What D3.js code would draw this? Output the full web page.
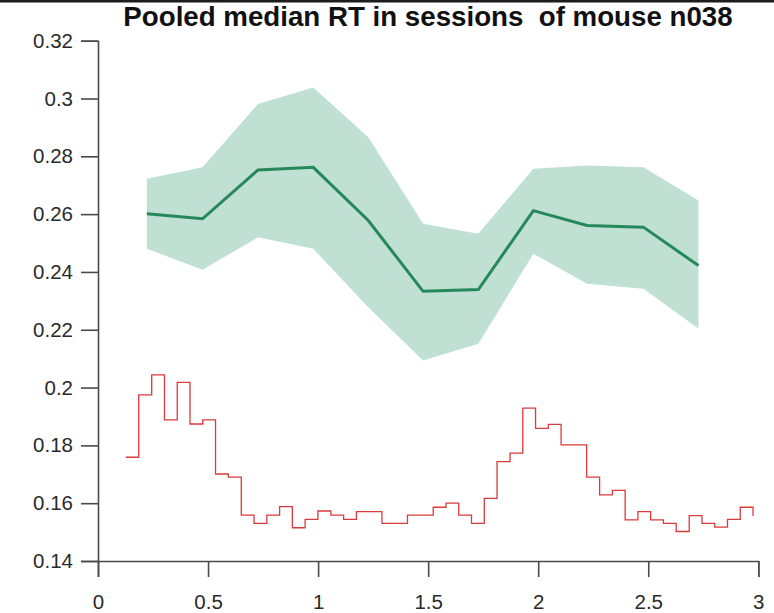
<!DOCTYPE html>
<html lang="en">
<head>
<title>Pooled median RT</title>
<script src="https://d3js.org/d3.v7.min.js" charset="utf-8"></script>
<style>
body { margin: 0; background: #fff; }
</style>
</head>
<body>

<script>
var titleText = "Pooled median RT in sessions\u00a0 of mouse n038";

var xTicks = [0, 0.5, 1, 1.5, 2, 2.5, 3];
var yTicks = [0.14, 0.16, 0.18, 0.2, 0.22, 0.24, 0.26, 0.28, 0.3, 0.32];

// green series: median with band
var sessX = [0.222, 0.475, 0.727, 0.978, 1.228, 1.477, 1.728, 1.978, 2.222, 2.478, 2.728];
var sessMed = [0.2601, 0.2584, 0.2753, 0.2762, 0.2578, 0.2333, 0.2339, 0.2612, 0.2561, 0.2555, 0.2422];
var sessHi = [0.2722, 0.2762, 0.2981, 0.3038, 0.2866, 0.2567, 0.2532, 0.2757, 0.2768, 0.2762, 0.2647];
var sessLo = [0.2480, 0.2408, 0.2520, 0.2480, 0.2278, 0.2094, 0.2152, 0.2463, 0.2359, 0.2342, 0.2204];

// red stairs
var stairX = [0.127, 0.185, 0.244, 0.302, 0.360, 0.418, 0.476, 0.534, 0.592, 0.651,
              0.709, 0.767, 0.825, 0.883, 0.941, 0.999, 1.058, 1.116, 1.174, 1.232,
              1.290, 1.348, 1.406, 1.465, 1.523, 1.581, 1.639, 1.697, 1.755, 1.813,
              1.872, 1.930, 1.988, 2.046, 2.104, 2.162, 2.220, 2.279, 2.337, 2.395,
              2.453, 2.511, 2.569, 2.627, 2.686, 2.744, 2.802, 2.860, 2.918, 2.976];
var stairY = [0.1759, 0.1975, 0.2044, 0.1888, 0.2018, 0.1874, 0.1888, 0.1701, 0.1690, 0.1559,
              0.1530, 0.1559, 0.1588, 0.1515, 0.1544, 0.1573, 0.1559, 0.1544, 0.1571, 0.1571,
              0.1530, 0.1530, 0.1559, 0.1559, 0.1586, 0.1600, 0.1559, 0.1530, 0.1617, 0.1744,
              0.1773, 0.1929, 0.1859, 0.1873, 0.1802, 0.1802, 0.1690, 0.1629, 0.1644, 0.1542,
              0.1571, 0.1542, 0.1530, 0.1502, 0.1557, 0.1530, 0.1517, 0.1544, 0.1586, 0.1556];

var W = 774, H = 613;
var plotL = 98, plotR = 758.3, plotT = 40.7, plotB = 561;

var svg = d3.select("body").append("svg").attr("width", W).attr("height", H)
  .style("font-family", "'Liberation Sans', Arial, sans-serif");

svg.append("rect").attr("x", 0).attr("y", 0).attr("width", W).attr("height", 2.5).attr("fill", "#1c1c1c");

var x = d3.scaleLinear().domain([0, 3]).range([plotL, plotR]);
var y = d3.scaleLinear().domain([0.14, 0.32]).range([plotB, plotT]);

var band = sessX.map(function(d, i) { return { x: d, lo: sessLo[i], hi: sessHi[i], m: sessMed[i] }; });

svg.append("path").datum(band)
  .attr("fill", "#bfe0d2")
  .attr("d", d3.area().x(function(d) { return x(d.x); })
    .y0(function(d) { return y(d.lo); })
    .y1(function(d) { return y(d.hi); }));

svg.append("path").datum(band)
  .attr("fill", "none")
  .attr("stroke", "#25885b")
  .attr("stroke-width", 3)
  .attr("d", d3.line().x(function(d) { return x(d.x); }).y(function(d) { return y(d.m); }));

var stairs = stairX.map(function(d, i) { return [d, stairY[i]]; });
svg.append("path").datum(stairs)
  .attr("fill", "none")
  .attr("stroke", "#dc3b3b")
  .attr("stroke-width", 1.3)
  .attr("d", d3.line().curve(d3.curveStepAfter)
    .x(function(d) { return x(d[0]); }).y(function(d) { return y(d[1]); }));

var xAxis = svg.append("g").attr("transform", "translate(0," + plotB + ")")
  .call(d3.axisBottom(x).tickValues(xTicks).tickSize(16).tickPadding(17)
    .tickFormat(function(d) { return String(d); }));

var yAxis = svg.append("g").attr("transform", "translate(" + plotL + ",0)")
  .call(d3.axisLeft(y).tickValues(yTicks).tickSize(17).tickPadding(8)
    .tickFormat(function(d) { return String(d); }));

[xAxis, yAxis].forEach(function(g) {
  g.selectAll("path, line").attr("stroke", "#4a4a4a").attr("stroke-width", 1.6);
  g.selectAll("text").attr("fill", "#2a2a2a").style("font-size", "20.5px")
    .style("font-family", "'Liberation Sans', Arial, sans-serif");
});

svg.append("text")
  .attr("x", 428).attr("y", 26)
  .attr("text-anchor", "middle")
  .style("font-size", "27.7px")
  .style("font-weight", "bold")
  .attr("fill", "#111")
  .text(titleText);
</script>

</body>
</html>
